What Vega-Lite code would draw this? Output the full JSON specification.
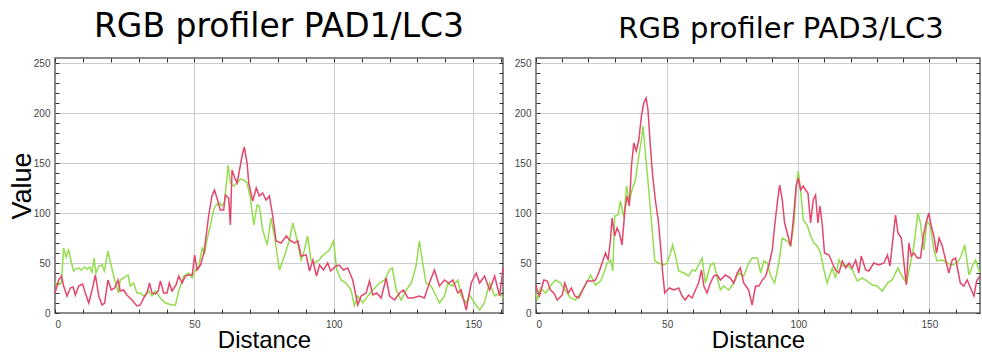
{
  "$schema": "https://vega.github.io/schema/vega-lite/v6.json",
  "background": "white",
  "padding": {"left": 7, "top": 9, "right": 0, "bottom": 0},
  "spacing": 6,
  "config": {
    "view": {"stroke": "#666", "strokeWidth": 1.5},
    "font": "Liberation Sans",
    "axis": {
      "labelFont": "Liberation Sans",
      "labelFontSize": 10,
      "labelColor": "#444",
      "tickColor": "#333",
      "tickWidth": 1,
      "tickSize": -4,
      "domain": false,
      "titleFont": "Liberation Sans",
      "titleFontWeight": "normal",
      "titleColor": "#000"
    }
  },
  "datasets": {
    "pad1": [
      {"s":"G","d":0,"v":30},{"s":"G","d":1,"v":28},{"s":"G","d":2.3,"v":30},{"s":"G","d":3.1,"v":65},{"s":"G","d":4,"v":56},{"s":"G","d":4.9,"v":63},{"s":"G","d":5.9,"v":50},{"s":"G","d":6.7,"v":42},{"s":"G","d":7.5,"v":44},{"s":"G","d":8.5,"v":45},{"s":"G","d":9.5,"v":43},{"s":"G","d":10.5,"v":46},{"s":"G","d":11.5,"v":44},{"s":"G","d":12.5,"v":46},{"s":"G","d":13.3,"v":40},{"s":"G","d":14,"v":55},{"s":"G","d":14.7,"v":40},{"s":"G","d":15.7,"v":47},{"s":"G","d":16.9,"v":48},{"s":"G","d":17.7,"v":42},{"s":"G","d":19,"v":62},{"s":"G","d":20.2,"v":47},{"s":"G","d":21.4,"v":33},{"s":"G","d":22.8,"v":20},{"s":"G","d":23.4,"v":33},{"s":"G","d":24.6,"v":35},{"s":"G","d":26.2,"v":38},{"s":"G","d":27,"v":27},{"s":"G","d":28.2,"v":30},{"s":"G","d":29.4,"v":20},{"s":"G","d":30.6,"v":20},{"s":"G","d":31.8,"v":17},{"s":"G","d":33.6,"v":22},{"s":"G","d":34.8,"v":17},{"s":"G","d":36,"v":22},{"s":"G","d":37.8,"v":15},{"s":"G","d":39.6,"v":10},{"s":"G","d":42,"v":8},{"s":"G","d":43.2,"v":8},{"s":"G","d":44.4,"v":22},{"s":"G","d":46.2,"v":37},{"s":"G","d":48,"v":40},{"s":"G","d":49.2,"v":35},{"s":"G","d":50.4,"v":43},{"s":"G","d":51.6,"v":47},{"s":"G","d":52.8,"v":65},{"s":"G","d":53.7,"v":60},{"s":"G","d":54.5,"v":73},{"s":"G","d":55.7,"v":87},{"s":"G","d":56.9,"v":103},{"s":"G","d":57.8,"v":108},{"s":"G","d":59,"v":110},{"s":"G","d":59.9,"v":107},{"s":"G","d":60.9,"v":112},{"s":"G","d":62.1,"v":148},{"s":"G","d":62.9,"v":130},{"s":"G","d":64.1,"v":127},{"s":"G","d":65.3,"v":130},{"s":"G","d":66.5,"v":134},{"s":"G","d":67.7,"v":133},{"s":"G","d":68.9,"v":130},{"s":"G","d":70.1,"v":115},{"s":"G","d":71.3,"v":88},{"s":"G","d":72.5,"v":108},{"s":"G","d":73.3,"v":107},{"s":"G","d":74.5,"v":83},{"s":"G","d":76.1,"v":68},{"s":"G","d":77.5,"v":95},{"s":"G","d":78.7,"v":77},{"s":"G","d":80.5,"v":43},{"s":"G","d":82.3,"v":57},{"s":"G","d":84.1,"v":73},{"s":"G","d":85.3,"v":90},{"s":"G","d":86.5,"v":77},{"s":"G","d":88.3,"v":53},{"s":"G","d":89.5,"v":63},{"s":"G","d":90.6,"v":77},{"s":"G","d":91.8,"v":53},{"s":"G","d":93,"v":50},{"s":"G","d":94.8,"v":53},{"s":"G","d":95.9,"v":57},{"s":"G","d":98.4,"v":63},{"s":"G","d":99.9,"v":72},{"s":"G","d":101.1,"v":43},{"s":"G","d":102.6,"v":33},{"s":"G","d":104.4,"v":30},{"s":"G","d":106.2,"v":23},{"s":"G","d":107.4,"v":7},{"s":"G","d":108.6,"v":17},{"s":"G","d":110.4,"v":10},{"s":"G","d":112.2,"v":17},{"s":"G","d":114,"v":23},{"s":"G","d":116.4,"v":30},{"s":"G","d":118.2,"v":33},{"s":"G","d":120,"v":43},{"s":"G","d":121,"v":45},{"s":"G","d":122.4,"v":23},{"s":"G","d":124.2,"v":13},{"s":"G","d":126,"v":23},{"s":"G","d":127.8,"v":30},{"s":"G","d":129.5,"v":47},{"s":"G","d":130.7,"v":72},{"s":"G","d":131.9,"v":50},{"s":"G","d":133.1,"v":30},{"s":"G","d":134.9,"v":27},{"s":"G","d":136.7,"v":17},{"s":"G","d":137.9,"v":10},{"s":"G","d":139.7,"v":17},{"s":"G","d":140.9,"v":30},{"s":"G","d":142.7,"v":27},{"s":"G","d":144.5,"v":33},{"s":"G","d":145.7,"v":17},{"s":"G","d":147.5,"v":10},{"s":"G","d":148.7,"v":18},{"s":"G","d":150.5,"v":10},{"s":"G","d":152.3,"v":3},{"s":"G","d":154,"v":10},{"s":"G","d":155.9,"v":30},{"s":"G","d":157.7,"v":17},{"s":"G","d":159.5,"v":20},{"s":"G","d":160.7,"v":15},
      {"s":"R","d":0,"v":20},{"s":"R","d":1.3,"v":33},{"s":"R","d":2.3,"v":37},{"s":"R","d":3.1,"v":27},{"s":"R","d":4.3,"v":17},{"s":"R","d":5.5,"v":25},{"s":"R","d":6.5,"v":26},{"s":"R","d":7.3,"v":18},{"s":"R","d":8.5,"v":27},{"s":"R","d":9.9,"v":29},{"s":"R","d":10.9,"v":20},{"s":"R","d":12.1,"v":10},{"s":"R","d":13.3,"v":23},{"s":"R","d":14.5,"v":38},{"s":"R","d":15.7,"v":17},{"s":"R","d":16.9,"v":8},{"s":"R","d":17.8,"v":10},{"s":"R","d":19,"v":33},{"s":"R","d":20.2,"v":23},{"s":"R","d":21.4,"v":25},{"s":"R","d":22.6,"v":33},{"s":"R","d":23.4,"v":22},{"s":"R","d":24.6,"v":23},{"s":"R","d":25.8,"v":18},{"s":"R","d":27.6,"v":13},{"s":"R","d":29.4,"v":7},{"s":"R","d":30.6,"v":8},{"s":"R","d":31.8,"v":15},{"s":"R","d":33,"v":20},{"s":"R","d":33.9,"v":30},{"s":"R","d":34.8,"v":20},{"s":"R","d":36,"v":19},{"s":"R","d":37,"v":22},{"s":"R","d":37.8,"v":32},{"s":"R","d":39,"v":20},{"s":"R","d":40.2,"v":20},{"s":"R","d":41,"v":30},{"s":"R","d":42,"v":22},{"s":"R","d":43.4,"v":28},{"s":"R","d":44.4,"v":37},{"s":"R","d":45.6,"v":30},{"s":"R","d":46.8,"v":37},{"s":"R","d":48,"v":38},{"s":"R","d":49.2,"v":38},{"s":"R","d":50.1,"v":58},{"s":"R","d":51,"v":43},{"s":"R","d":52.2,"v":48},{"s":"R","d":53.4,"v":60},{"s":"R","d":54.2,"v":77},{"s":"R","d":55.1,"v":97},{"s":"R","d":56.3,"v":117},{"s":"R","d":57.2,"v":123},{"s":"R","d":58.1,"v":115},{"s":"R","d":59.3,"v":103},{"s":"R","d":60.5,"v":103},{"s":"R","d":61.1,"v":118},{"s":"R","d":62.3,"v":115},{"s":"R","d":62.9,"v":88},{"s":"R","d":63.5,"v":143},{"s":"R","d":64.5,"v":135},{"s":"R","d":65.3,"v":130},{"s":"R","d":66,"v":140},{"s":"R","d":67.1,"v":157},{"s":"R","d":67.9,"v":166},{"s":"R","d":68.9,"v":150},{"s":"R","d":69.5,"v":130},{"s":"R","d":70.9,"v":112},{"s":"R","d":72.2,"v":125},{"s":"R","d":73.3,"v":117},{"s":"R","d":74.5,"v":120},{"s":"R","d":75.7,"v":113},{"s":"R","d":76.9,"v":117},{"s":"R","d":78.1,"v":97},{"s":"R","d":79.3,"v":72},{"s":"R","d":81.1,"v":70},{"s":"R","d":83,"v":77},{"s":"R","d":84.1,"v":73},{"s":"R","d":85.9,"v":70},{"s":"R","d":87.1,"v":72},{"s":"R","d":88.3,"v":57},{"s":"R","d":90.1,"v":58},{"s":"R","d":91.3,"v":42},{"s":"R","d":92.5,"v":53},{"s":"R","d":93.8,"v":37},{"s":"R","d":94.9,"v":48},{"s":"R","d":96.3,"v":43},{"s":"R","d":97.8,"v":50},{"s":"R","d":98.9,"v":42},{"s":"R","d":100.8,"v":47},{"s":"R","d":101.9,"v":48},{"s":"R","d":103.5,"v":43},{"s":"R","d":105,"v":45},{"s":"R","d":106.8,"v":33},{"s":"R","d":108.6,"v":8},{"s":"R","d":109.8,"v":17},{"s":"R","d":111.6,"v":20},{"s":"R","d":112.8,"v":32},{"s":"R","d":114,"v":18},{"s":"R","d":115.4,"v":20},{"s":"R","d":117,"v":15},{"s":"R","d":118.8,"v":35},{"s":"R","d":120,"v":17},{"s":"R","d":121.8,"v":13},{"s":"R","d":123.6,"v":20},{"s":"R","d":125,"v":23},{"s":"R","d":126.6,"v":15},{"s":"R","d":128.3,"v":15},{"s":"R","d":130.7,"v":17},{"s":"R","d":132.5,"v":15},{"s":"R","d":134.3,"v":30},{"s":"R","d":136.1,"v":43},{"s":"R","d":137.9,"v":27},{"s":"R","d":139.7,"v":33},{"s":"R","d":141.3,"v":30},{"s":"R","d":142.7,"v":33},{"s":"R","d":144.5,"v":20},{"s":"R","d":145.7,"v":23},{"s":"R","d":147.5,"v":3},{"s":"R","d":149.3,"v":30},{"s":"R","d":151.1,"v":40},{"s":"R","d":152.3,"v":30},{"s":"R","d":154.1,"v":37},{"s":"R","d":155.9,"v":23},{"s":"R","d":157.7,"v":37},{"s":"R","d":159.5,"v":17},{"s":"R","d":160.7,"v":45}
    ],
    "pad3": [
      {"s":"G","d":0,"v":20},{"s":"G","d":0.5,"v":13},{"s":"G","d":1.7,"v":25},{"s":"G","d":3.6,"v":20},{"s":"G","d":5.5,"v":27},{"s":"G","d":7.4,"v":33},{"s":"G","d":9.3,"v":30},{"s":"G","d":11.3,"v":22},{"s":"G","d":13.2,"v":15},{"s":"G","d":15.1,"v":13},{"s":"G","d":17,"v":20},{"s":"G","d":18.9,"v":28},{"s":"G","d":20.8,"v":38},{"s":"G","d":22.7,"v":28},{"s":"G","d":24.6,"v":32},{"s":"G","d":25.9,"v":40},{"s":"G","d":27.1,"v":50},{"s":"G","d":28.4,"v":53},{"s":"G","d":29.3,"v":42},{"s":"G","d":30,"v":97},{"s":"G","d":31.3,"v":98},{"s":"G","d":32.2,"v":112},{"s":"G","d":33.5,"v":95},{"s":"G","d":34.5,"v":127},{"s":"G","d":35.6,"v":112},{"s":"G","d":36.6,"v":123},{"s":"G","d":37.9,"v":133},{"s":"G","d":39.2,"v":157},{"s":"G","d":40.2,"v":173},{"s":"G","d":40.8,"v":187},{"s":"G","d":41.7,"v":160},{"s":"G","d":43,"v":123},{"s":"G","d":44.3,"v":83},{"s":"G","d":45.3,"v":52},{"s":"G","d":46.8,"v":50},{"s":"G","d":48.7,"v":48},{"s":"G","d":50,"v":50},{"s":"G","d":51.3,"v":60},{"s":"G","d":52.1,"v":68},{"s":"G","d":53.2,"v":57},{"s":"G","d":54.4,"v":42},{"s":"G","d":56.4,"v":40},{"s":"G","d":58.2,"v":37},{"s":"G","d":59.5,"v":43},{"s":"G","d":60.8,"v":42},{"s":"G","d":62,"v":48},{"s":"G","d":63.3,"v":55},{"s":"G","d":64.6,"v":30},{"s":"G","d":66.5,"v":48},{"s":"G","d":67.8,"v":50},{"s":"G","d":69,"v":37},{"s":"G","d":70.3,"v":23},{"s":"G","d":71.6,"v":27},{"s":"G","d":73.5,"v":23},{"s":"G","d":75.4,"v":30},{"s":"G","d":77.3,"v":40},{"s":"G","d":79.2,"v":37},{"s":"G","d":81.1,"v":50},{"s":"G","d":82.4,"v":55},{"s":"G","d":84.4,"v":55},{"s":"G","d":85.7,"v":40},{"s":"G","d":86.9,"v":52},{"s":"G","d":88.2,"v":50},{"s":"G","d":89.5,"v":37},{"s":"G","d":91,"v":30},{"s":"G","d":92.6,"v":50},{"s":"G","d":93.9,"v":75},{"s":"G","d":95.8,"v":72},{"s":"G","d":97.1,"v":67},{"s":"G","d":98.4,"v":90},{"s":"G","d":99.3,"v":127},{"s":"G","d":100,"v":142},{"s":"G","d":100.9,"v":123},{"s":"G","d":101.9,"v":93},{"s":"G","d":103.4,"v":88},{"s":"G","d":104.7,"v":77},{"s":"G","d":106,"v":70},{"s":"G","d":107.2,"v":67},{"s":"G","d":108.5,"v":60},{"s":"G","d":109.8,"v":43},{"s":"G","d":111,"v":30},{"s":"G","d":113,"v":45},{"s":"G","d":114.2,"v":35},{"s":"G","d":115.5,"v":53},{"s":"G","d":116.8,"v":47},{"s":"G","d":118.7,"v":48},{"s":"G","d":120.6,"v":43},{"s":"G","d":122.5,"v":32},{"s":"G","d":124.4,"v":35},{"s":"G","d":126.3,"v":32},{"s":"G","d":128.2,"v":28},{"s":"G","d":130.1,"v":27},{"s":"G","d":132,"v":22},{"s":"G","d":134,"v":30},{"s":"G","d":135.8,"v":33},{"s":"G","d":138,"v":45},{"s":"G","d":139.6,"v":37},{"s":"G","d":141.3,"v":30},{"s":"G","d":142.8,"v":50},{"s":"G","d":144.1,"v":67},{"s":"G","d":145.6,"v":100},{"s":"G","d":146.6,"v":90},{"s":"G","d":147.9,"v":63},{"s":"G","d":149.1,"v":92},{"s":"G","d":150.4,"v":87},{"s":"G","d":151.7,"v":63},{"s":"G","d":152.9,"v":52},{"s":"G","d":154.9,"v":53},{"s":"G","d":156.8,"v":50},{"s":"G","d":158.7,"v":48},{"s":"G","d":160.6,"v":50},{"s":"G","d":162.1,"v":57},{"s":"G","d":163.5,"v":68},{"s":"G","d":165.1,"v":38},{"s":"G","d":166.4,"v":47},{"s":"G","d":167.6,"v":53},{"s":"G","d":169.3,"v":40},
      {"s":"R","d":0,"v":28},{"s":"R","d":0.5,"v":23},{"s":"R","d":1.3,"v":17},{"s":"R","d":3,"v":33},{"s":"R","d":4.3,"v":32},{"s":"R","d":5.5,"v":23},{"s":"R","d":6.8,"v":20},{"s":"R","d":8.1,"v":13},{"s":"R","d":10,"v":18},{"s":"R","d":11,"v":30},{"s":"R","d":12.3,"v":20},{"s":"R","d":13.5,"v":25},{"s":"R","d":14.8,"v":17},{"s":"R","d":16.3,"v":15},{"s":"R","d":17.6,"v":22},{"s":"R","d":19.5,"v":32},{"s":"R","d":21.4,"v":32},{"s":"R","d":22.7,"v":33},{"s":"R","d":23.9,"v":40},{"s":"R","d":25.2,"v":50},{"s":"R","d":26.5,"v":60},{"s":"R","d":27.5,"v":53},{"s":"R","d":28.4,"v":73},{"s":"R","d":29,"v":95},{"s":"R","d":30,"v":77},{"s":"R","d":30.9,"v":85},{"s":"R","d":31.8,"v":80},{"s":"R","d":32.8,"v":68},{"s":"R","d":33.9,"v":103},{"s":"R","d":34.7,"v":117},{"s":"R","d":35.6,"v":107},{"s":"R","d":36.4,"v":147},{"s":"R","d":37.3,"v":170},{"s":"R","d":38.2,"v":162},{"s":"R","d":39.2,"v":173},{"s":"R","d":40.2,"v":197},{"s":"R","d":41.1,"v":210},{"s":"R","d":42,"v":215},{"s":"R","d":42.7,"v":203},{"s":"R","d":43.6,"v":167},{"s":"R","d":44.5,"v":137},{"s":"R","d":45.5,"v":113},{"s":"R","d":46.6,"v":93},{"s":"R","d":47.5,"v":67},{"s":"R","d":48.3,"v":40},{"s":"R","d":49.1,"v":20},{"s":"R","d":50,"v":23},{"s":"R","d":50.9,"v":25},{"s":"R","d":52.5,"v":23},{"s":"R","d":54.4,"v":25},{"s":"R","d":55.7,"v":17},{"s":"R","d":56.9,"v":13},{"s":"R","d":58.2,"v":18},{"s":"R","d":59.5,"v":15},{"s":"R","d":60.8,"v":23},{"s":"R","d":62,"v":30},{"s":"R","d":63.1,"v":43},{"s":"R","d":64,"v":27},{"s":"R","d":65.2,"v":20},{"s":"R","d":66.5,"v":30},{"s":"R","d":67.8,"v":37},{"s":"R","d":69,"v":38},{"s":"R","d":70.3,"v":33},{"s":"R","d":72.2,"v":38},{"s":"R","d":74.1,"v":35},{"s":"R","d":75.4,"v":30},{"s":"R","d":76.7,"v":40},{"s":"R","d":77.9,"v":45},{"s":"R","d":79.2,"v":30},{"s":"R","d":81.1,"v":23},{"s":"R","d":82.4,"v":8},{"s":"R","d":83.7,"v":27},{"s":"R","d":85,"v":27},{"s":"R","d":86.3,"v":33},{"s":"R","d":87.6,"v":37},{"s":"R","d":88.8,"v":48},{"s":"R","d":90.1,"v":63},{"s":"R","d":91,"v":87},{"s":"R","d":92,"v":110},{"s":"R","d":92.9,"v":128},{"s":"R","d":93.9,"v":113},{"s":"R","d":94.8,"v":90},{"s":"R","d":95.8,"v":80},{"s":"R","d":97.1,"v":67},{"s":"R","d":98.1,"v":93},{"s":"R","d":99.2,"v":127},{"s":"R","d":100,"v":135},{"s":"R","d":100.9,"v":123},{"s":"R","d":101.9,"v":127},{"s":"R","d":102.8,"v":123},{"s":"R","d":103.7,"v":120},{"s":"R","d":104.7,"v":90},{"s":"R","d":105.7,"v":113},{"s":"R","d":106.6,"v":118},{"s":"R","d":107.5,"v":90},{"s":"R","d":108.3,"v":107},{"s":"R","d":109.2,"v":87},{"s":"R","d":110,"v":60},{"s":"R","d":111.7,"v":58},{"s":"R","d":113,"v":50},{"s":"R","d":114.2,"v":43},{"s":"R","d":115.5,"v":40},{"s":"R","d":116.8,"v":52},{"s":"R","d":118.1,"v":45},{"s":"R","d":119.4,"v":50},{"s":"R","d":120.6,"v":45},{"s":"R","d":121.9,"v":53},{"s":"R","d":123.1,"v":40},{"s":"R","d":124,"v":57},{"s":"R","d":125.7,"v":43},{"s":"R","d":126.9,"v":42},{"s":"R","d":128.8,"v":50},{"s":"R","d":130.7,"v":48},{"s":"R","d":132.7,"v":50},{"s":"R","d":134,"v":58},{"s":"R","d":135,"v":47},{"s":"R","d":136.2,"v":77},{"s":"R","d":137.1,"v":98},{"s":"R","d":138,"v":80},{"s":"R","d":139.3,"v":75},{"s":"R","d":140.3,"v":50},{"s":"R","d":141.2,"v":28},{"s":"R","d":142.2,"v":70},{"s":"R","d":143.1,"v":57},{"s":"R","d":144.1,"v":60},{"s":"R","d":145.4,"v":55},{"s":"R","d":146.6,"v":55},{"s":"R","d":147.9,"v":80},{"s":"R","d":148.9,"v":92},{"s":"R","d":149.8,"v":100},{"s":"R","d":150.7,"v":87},{"s":"R","d":151.7,"v":77},{"s":"R","d":152.7,"v":60},{"s":"R","d":153.7,"v":75},{"s":"R","d":154.9,"v":67},{"s":"R","d":156.2,"v":53},{"s":"R","d":157.4,"v":40},{"s":"R","d":158.7,"v":53},{"s":"R","d":160,"v":55},{"s":"R","d":160.9,"v":42},{"s":"R","d":161.8,"v":30},{"s":"R","d":163.1,"v":27},{"s":"R","d":164.4,"v":33},{"s":"R","d":165.7,"v":25},{"s":"R","d":167,"v":17},{"s":"R","d":168,"v":32},{"s":"R","d":169.3,"v":37}
    ]
  },
  "hconcat": [
    {
      "width": 448,
      "height": 255,
      "data": {"name": "pad1"},
      "title": {"text": "RGB profiler PAD1/LC3", "font": "DejaVu Sans", "fontSize": 33, "fontWeight": "normal", "color": "#000", "offset": 14},
      "layer": [
        {
          "mark": {"type": "line", "strokeWidth": 1.5},
          "encoding": {
            "x": {"field": "d", "type": "quantitative", "scale": {"domain": [0, 160.7], "nice": false, "zero": false},
              "axis": {"orient": "bottom", "values": [0,10,20,30,40,50,60,70,80,90,100,110,120,130,140,150,160],
                "labelExpr": "datum.value % 50 === 0 ? datum.label : ''", "labelPadding": 10,
                "grid": true, "gridColor": {"condition": {"test": "datum.value % 50 === 0 && datum.value > 0", "value": "#cccccc"}, "value": "rgba(0,0,0,0)"},
                "title": "Distance", "titleFontSize": 24, "titlePadding": -1, "titleX": 209}},
            "y": {"field": "v", "type": "quantitative", "scale": {"domain": [0, 255], "nice": false},
              "axis": {"orient": "left", "values": [0,10,20,30,40,50,60,70,80,90,100,110,120,130,140,150,160,170,180,190,200,210,220,230,240,250],
                "labelExpr": "datum.value % 50 === 0 ? datum.label : ''", "labelPadding": 9,
                "grid": true, "gridColor": {"condition": {"test": "datum.value % 50 === 0 && datum.value > 0", "value": "#cccccc"}, "value": "rgba(0,0,0,0)"},
                "title": "Value", "titleFontSize": 27, "titlePadding": -3}},
            "color": {"field": "s", "type": "nominal", "scale": {"domain": ["G", "R"], "range": ["#93dd4f", "#e4466c"]}, "legend": null}
          }
        },
        {
          "mark": {"type": "line", "opacity": 0},
          "encoding": {
            "x": {"field": "d", "type": "quantitative", "axis": {"orient": "top", "values": [0,10,20,30,40,50,60,70,80,90,100,110,120,130,140,150,160], "labels": false, "grid": false, "title": null}},
            "y": {"field": "v", "type": "quantitative", "axis": {"orient": "right", "values": [0,10,20,30,40,50,60,70,80,90,100,110,120,130,140,150,160,170,180,190,200,210,220,230,240,250], "labels": false, "grid": false, "title": null}},
            "detail": {"field": "s"}
          }
        }
      ],
      "resolve": {"axis": {"x": "independent", "y": "independent"}}
    },
    {
      "width": 444,
      "height": 255,
      "data": {"name": "pad3"},
      "title": {"text": "RGB profiler PAD3/LC3", "font": "DejaVu Sans", "fontSize": 29, "fontWeight": "normal", "color": "#000", "offset": 14, "dx": 23},
      "layer": [
        {
          "mark": {"type": "line", "strokeWidth": 1.5},
          "encoding": {
            "x": {"field": "d", "type": "quantitative", "scale": {"domain": [0, 169.3], "nice": false, "zero": false},
              "axis": {"orient": "bottom", "values": [0,10,20,30,40,50,60,70,80,90,100,110,120,130,140,150,160],
                "labelExpr": "datum.value % 50 === 0 ? datum.label : ''", "labelPadding": 10,
                "grid": true, "gridColor": {"condition": {"test": "datum.value % 50 === 0 && datum.value > 0", "value": "#cccccc"}, "value": "rgba(0,0,0,0)"},
                "title": "Distance", "titleFontSize": 24, "titlePadding": -1}},
            "y": {"field": "v", "type": "quantitative", "scale": {"domain": [0, 255], "nice": false},
              "axis": {"orient": "left", "values": [0,10,20,30,40,50,60,70,80,90,100,110,120,130,140,150,160,170,180,190,200,210,220,230,240,250],
                "labelExpr": "datum.value % 50 === 0 ? datum.label : ''", "labelPadding": 9,
                "grid": true, "gridColor": {"condition": {"test": "datum.value % 50 === 0 && datum.value > 0", "value": "#cccccc"}, "value": "rgba(0,0,0,0)"},
                "title": null}},
            "color": {"field": "s", "type": "nominal", "scale": {"domain": ["G", "R"], "range": ["#93dd4f", "#e4466c"]}, "legend": null}
          }
        },
        {
          "mark": {"type": "line", "opacity": 0},
          "encoding": {
            "x": {"field": "d", "type": "quantitative", "axis": {"orient": "top", "values": [0,10,20,30,40,50,60,70,80,90,100,110,120,130,140,150,160], "labels": false, "grid": false, "title": null}},
            "y": {"field": "v", "type": "quantitative", "axis": {"orient": "right", "values": [0,10,20,30,40,50,60,70,80,90,100,110,120,130,140,150,160,170,180,190,200,210,220,230,240,250], "labels": false, "grid": false, "title": null}},
            "detail": {"field": "s"}
          }
        }
      ],
      "resolve": {"axis": {"x": "independent", "y": "independent"}}
    }
  ]
}
